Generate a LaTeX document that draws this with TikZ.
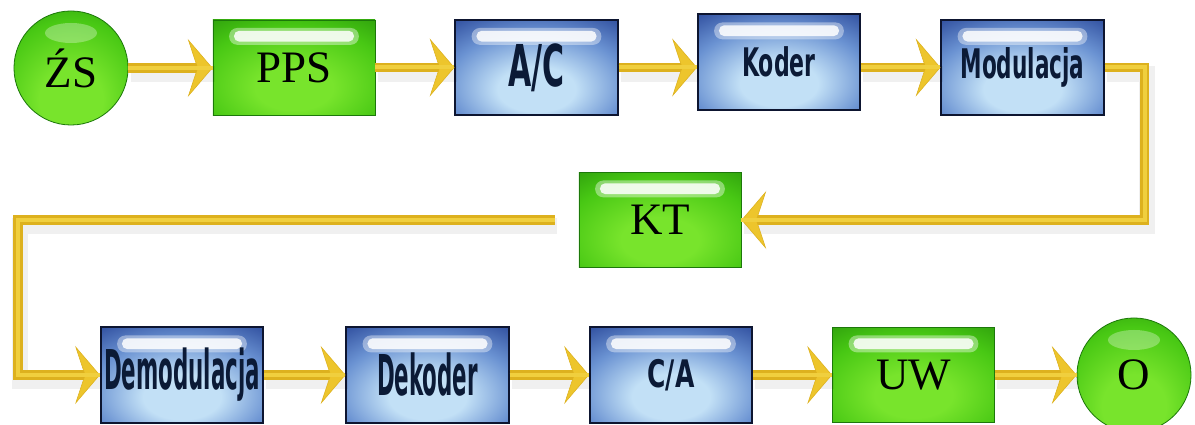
\documentclass[tikz,border=0pt]{standalone}
\usepackage{fontspec}
\setmainfont{Liberation Serif}
\newfontfamily\slimfont{DejaVu Sans}
\usepackage{graphicx}
\usetikzlibrary{arrows.meta}

\definecolor{bluepale}{HTML}{C2E0F6}
\definecolor{bluesoft}{HTML}{6A92D2}
\definecolor{bluedeep}{HTML}{2F4E9E}
\definecolor{blueedge}{HTML}{0D1530}
\definecolor{navytext}{HTML}{0B1A36}
\definecolor{limepale}{HTML}{78E42C}
\definecolor{limemid}{HTML}{48C814}
\definecolor{greendeep}{HTML}{27940A}
\definecolor{greenedge}{HTML}{1C780A}
\definecolor{goldline}{HTML}{DDB11E}
\definecolor{goldshine}{HTML}{F0CF3E}
\definecolor{goldhead}{HTML}{EDC52C}

% glow shadings, the light spot sits a bit below the middle
\pgfdeclareradialshading{blueglow}{\pgfpoint{0bp}{-13bp}}{color(0bp)=(bluepale); color(12bp)=(bluepale); color(28bp)=(bluesoft); color(42bp)=(bluedeep); color(100bp)=(bluedeep)}
\pgfdeclareradialshading{greenglow}{\pgfpoint{0bp}{-12bp}}{color(0bp)=(limepale); color(12bp)=(limepale); color(30bp)=(limemid); color(46bp)=(greendeep); color(100bp)=(greendeep)}
\pgfdeclareradialshading{ballglow}{\pgfpoint{0bp}{-16bp}}{color(0bp)=(limepale); color(14bp)=(limepale); color(32bp)=(limemid); color(46bp)=(greendeep); color(50bp)=(greenedge); color(100bp)=(greenedge)}

% narrow sans label: x-scale, size, text
\newcommand{\slim}[3]{\raisebox{-0.1cm}{\slimfont\bfseries\fontsize{#2}{#2}\selectfont\scalebox{#1}[1]{#3}}}

\begin{document}
\begin{tikzpicture}[x=0.025cm,y=-0.025cm,
  stage/.style={rectangle,minimum width=4.05cm,minimum height=2.375cm,inner sep=0pt},
  gloss/.style={path picture={
    \fill[white,opacity=.4,rounded corners=0.2cm] ([xshift=-1.62cm,yshift=-0.2cm]path picture bounding box.north) rectangle ([xshift=1.62cm,yshift=-0.62cm]path picture bounding box.north);
    \fill[white,opacity=.85,rounded corners=0.13cm] ([xshift=-1.5cm,yshift=-0.27cm]path picture bounding box.north) rectangle ([xshift=1.5cm,yshift=-0.54cm]path picture bounding box.north);}},
  bluebox/.style={stage,gloss,shade,shading=blueglow,draw=blueedge,line width=0.05cm,text=navytext},
  greenbox/.style={stage,gloss,shade,shading=greenglow,draw=greenedge,line width=0.02cm,font=\fontsize{32}{34}\selectfont},
  ball/.style={circle,minimum size=2.85cm,inner sep=0pt,shade,shading=ballglow,draw=greenedge,line width=0.02cm,font=\fontsize{32}{34}\selectfont,
    path picture={\fill[white,opacity=.3] ([yshift=-0.55cm]path picture bounding box.north) ellipse [x radius=0.65cm,y radius=0.25cm];}},
  flow/.style={draw=goldline,line width=0.24cm,
    -{Stealth[length=0.62cm,width=1.45cm,inset=0.24cm,line width=0.4pt,color=goldline,fill=goldhead]},
    preaction={draw=black,draw opacity=.06,line width=0.4cm,-,transform canvas={shift={(0.06cm,-0.16cm)}}},
    postaction={draw=goldshine,line width=0.1cm,-}}]
\fill[white] (0,0) rectangle (1195,425);
\useasboundingbox (0,0) rectangle (1195,425);

% first row
\node[ball] (zs) at (71,68) {ŹS};
\node[greenbox] (pps) at (294,67.5) {PPS};
\node[bluebox] (ac) at (536.5,67.5) {\slim{.52}{41}{A/C}};
\node[bluebox] (koder) at (779,62) {\slim{.56}{28}{Koder}};
\node[bluebox] (mod) at (1022.5,67.5) {\slim{.53}{29}{Modulacja}};

% channel
\node[greenbox] (kt) at (660,220) {KT};
\coordinate (ktout) at ([xshift=-0.6cm]kt.west);
\coordinate (turn) at (18,375);

% last row
\node[bluebox] (demod) at (182,375) {\slim{.39}{39}{Demodulacja}};
\node[bluebox] (dekoder) at (427.5,375) {\slim{.38}{40}{Dekoder}};
\node[bluebox] (ca) at (671,375) {\slim{.66}{27}{C/A}};
\node[greenbox] (uw) at (913.5,375) {UW};
\node[ball] (o) at (1134,375) {O};

\draw[flow] (zs.east) -- (zs.east -| pps.west);
\draw[flow] (pps) -- (ac);
\draw[flow] (ac.east) -- (ac.east -| koder.west);
\draw[flow] (mod.west -| koder.east) -- (mod.west);
\draw[flow] (mod.east) -- ++(40,0) |- (kt.east);
\draw[flow] (ktout) -| (turn) -- (demod.west);
\draw[flow] (demod) -- (dekoder);
\draw[flow] (dekoder) -- (ca);
\draw[flow] (ca) -- (uw);
\draw[flow] (uw) -- (o);
\end{tikzpicture}
\end{document}
